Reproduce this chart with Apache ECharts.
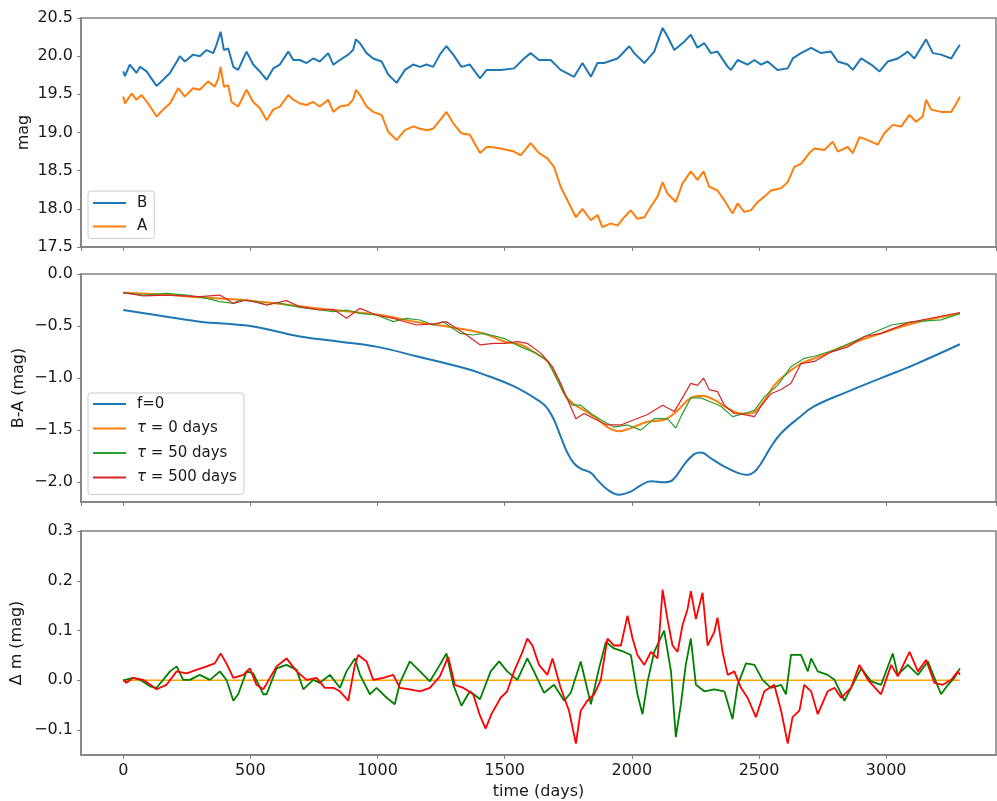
<!DOCTYPE html>
<html><head><meta charset="utf-8">
<script src="https://cdn.jsdelivr.net/npm/echarts@6/dist/echarts.min.js"></script>
<style>html,body{margin:0;padding:0;background:#fff}#c{width:997px;height:801px}</style>
</head><body><div id="c"></div>
<script>
// ---------- data (time in days, magnitudes) ----------
const B_DAYS = [0,7,26,52,66,92,131,157,184,223,242,275,301,328,354,367,383,396,413,433,452,485,511,537,564,590,616,649,669,695,721,747,773,806,826,852,885,904,915,931,957,983,1016,1042,1075,1108,1140,1167,1193,1219,1245,1271,1298,1330,1363,1403,1429,1445,1484,1537,1576,1602,1635,1681,1720,1773,1806,1839,1865,1891,1944,1990,2009,2049,2088,2121,2140,2167,2206,2232,2258,2285,2311,2337,2377,2390,2416,2455,2482,2508,2534,2573,2613,2633,2665,2705,2744,2783,2810,2849,2869,2902,2941,2974,3006,3046,3085,3111,3157,3184,3216,3256,3276,3290];
const B_MAG = [19.80,19.74,19.89,19.78,19.86,19.80,19.61,19.69,19.78,20.00,19.93,20.02,20.00,20.08,20.04,20.15,20.32,20.08,20.10,19.86,19.82,20.06,19.89,19.80,19.69,19.84,19.89,20.06,19.95,19.95,19.91,19.97,19.93,20.04,19.89,19.95,20.02,20.08,20.22,20.17,20.04,19.97,19.93,19.76,19.65,19.82,19.89,19.86,19.89,19.86,20.02,20.13,20.02,19.86,19.89,19.71,19.82,19.82,19.82,19.84,19.97,20.04,19.95,19.95,19.82,19.73,19.91,19.73,19.91,19.91,19.97,20.13,20.04,19.91,20.06,20.37,20.26,20.08,20.19,20.28,20.11,20.17,20.04,20.06,19.86,19.82,19.95,19.89,19.95,19.89,19.93,19.82,19.84,19.97,20.04,20.11,20.04,20.06,19.93,19.89,19.82,19.97,19.89,19.80,19.93,19.97,20.06,19.97,20.22,20.04,20.02,19.97,20.08,20.15];

const A_DAYS = [0,7,33,52,72,98,131,157,184,216,242,275,301,334,360,374,383,396,413,426,452,485,511,537,564,590,616,649,669,695,721,747,773,806,826,852,885,904,915,931,957,983,1016,1042,1075,1108,1140,1167,1193,1219,1245,1271,1298,1330,1363,1403,1429,1445,1484,1537,1563,1602,1635,1668,1694,1720,1747,1780,1806,1839,1865,1884,1917,1944,1970,1996,2022,2049,2075,2101,2121,2140,2173,2199,2232,2258,2282,2304,2337,2364,2396,2416,2442,2468,2495,2521,2547,2587,2613,2639,2665,2698,2718,2757,2790,2810,2849,2869,2895,2928,2967,2993,3026,3059,3092,3118,3144,3157,3177,3216,3256,3276,3290];
const A_MAG = [19.47,19.38,19.51,19.43,19.49,19.38,19.21,19.30,19.38,19.58,19.47,19.58,19.56,19.67,19.60,19.71,19.86,19.60,19.62,19.40,19.34,19.56,19.40,19.32,19.16,19.30,19.34,19.49,19.43,19.38,19.36,19.40,19.34,19.43,19.27,19.34,19.36,19.43,19.56,19.49,19.34,19.27,19.23,19.01,18.90,19.03,19.08,19.05,19.03,19.05,19.16,19.27,19.12,18.99,18.97,18.73,18.81,18.81,18.79,18.75,18.70,18.86,18.73,18.66,18.55,18.29,18.11,17.89,18.00,17.85,17.92,17.76,17.81,17.78,17.89,17.98,17.87,17.89,18.03,18.16,18.35,18.20,18.09,18.33,18.49,18.38,18.49,18.29,18.24,18.11,17.94,18.07,17.96,17.98,18.09,18.16,18.24,18.27,18.35,18.55,18.59,18.73,18.79,18.77,18.88,18.75,18.81,18.73,18.94,18.90,18.84,18.99,19.10,19.08,19.23,19.14,19.21,19.43,19.30,19.27,19.27,19.38,19.47];

const F0_DAYS = [0,170,301,500,695,852,1000,1153,1350,1406,1537,1642,1668,1694,1720,1747,1773,1799,1839,1865,1904,1950,1996,2035,2075,2127,2160,2206,2245,2272,2311,2364,2416,2455,2482,2508,2547,2587,2652,2718,2849,2980,3112,3290];
const F0_BA = [-0.346,-0.41,-0.458,-0.50,-0.60,-0.65,-0.70,-0.79,-0.91,-0.954,-1.08,-1.23,-1.29,-1.40,-1.56,-1.72,-1.82,-1.87,-1.91,-1.98,-2.07,-2.12,-2.09,-2.03,-1.99,-2.00,-1.98,-1.83,-1.73,-1.715,-1.77,-1.85,-1.91,-1.93,-1.90,-1.82,-1.66,-1.53,-1.39,-1.27,-1.13,-1.00,-0.87,-0.675];

const T0_DAYS = [0,170,301,500,695,826,1000,1153,1285,1416,1500,1563,1615,1668,1707,1734,1766,1799,1852,1904,1950,1996,2062,2127,2180,2232,2278,2324,2377,2429,2468,2508,2560,2613,2665,2718,2849,2980,3112,3290];
const T0_BA = [-0.18,-0.20,-0.224,-0.256,-0.31,-0.346,-0.39,-0.46,-0.51,-0.57,-0.65,-0.68,-0.75,-0.84,-1.00,-1.15,-1.24,-1.29,-1.37,-1.47,-1.51,-1.48,-1.42,-1.40,-1.31,-1.19,-1.17,-1.21,-1.29,-1.34,-1.34,-1.26,-1.07,-0.95,-0.86,-0.81,-0.68,-0.57,-0.47,-0.38];

const T50_DAYS = [0,79,170,249,328,380,433,459,524,564,603,695,773,826,878,931,996,1062,1114,1167,1219,1258,1324,1376,1416,1458,1500,1563,1615,1668,1707,1740,1766,1799,1839,1878,1930,1983,2035,2088,2140,2173,2193,2232,2272,2311,2350,2396,2442,2482,2521,2573,2626,2678,2718,2797,2915,3020,3099,3216,3290];
const T50_BA = [-0.179,-0.202,-0.186,-0.202,-0.234,-0.266,-0.282,-0.25,-0.266,-0.298,-0.275,-0.32,-0.346,-0.362,-0.346,-0.378,-0.394,-0.458,-0.426,-0.442,-0.49,-0.458,-0.57,-0.586,-0.57,-0.595,-0.62,-0.70,-0.75,-0.83,-1.02,-1.18,-1.26,-1.26,-1.34,-1.40,-1.47,-1.45,-1.50,-1.39,-1.39,-1.48,-1.37,-1.19,-1.19,-1.23,-1.27,-1.37,-1.34,-1.31,-1.18,-1.07,-0.89,-0.81,-0.79,-0.73,-0.60,-0.49,-0.46,-0.44,-0.38];

const T500_DAYS = [0,79,170,301,380,433,485,564,642,695,773,826,878,931,996,1062,1154,1219,1271,1350,1403,1458,1500,1550,1589,1642,1688,1720,1753,1780,1812,1852,1904,1957,2009,2062,2121,2167,2199,2232,2258,2282,2304,2337,2364,2403,2442,2482,2508,2547,2587,2626,2665,2718,2783,2849,2915,2980,3085,3164,3290];
const T500_BA = [-0.179,-0.211,-0.202,-0.218,-0.202,-0.282,-0.25,-0.298,-0.256,-0.314,-0.346,-0.339,-0.426,-0.33,-0.394,-0.426,-0.49,-0.48,-0.458,-0.586,-0.68,-0.666,-0.666,-0.65,-0.666,-0.76,-0.89,-1.05,-1.24,-1.39,-1.34,-1.39,-1.45,-1.45,-1.40,-1.35,-1.26,-1.32,-1.19,-1.05,-1.07,-1.00,-1.11,-1.13,-1.26,-1.34,-1.35,-1.37,-1.27,-1.15,-1.11,-1.05,-0.86,-0.84,-0.75,-0.70,-0.60,-0.57,-0.47,-0.43,-0.37];

const D0_DAYS = [0,3290];
const D0_DM = [0,0];

const D50_DAYS = [0,39,66,105,131,157,184,210,236,262,301,341,380,406,433,452,485,511,551,564,603,642,682,708,747,773,813,852,878,911,931,970,996,1036,1068,1088,1127,1167,1206,1245,1271,1298,1330,1363,1403,1445,1478,1510,1550,1589,1615,1655,1694,1734,1760,1799,1839,1871,1898,1930,1970,1996,2022,2042,2062,2088,2127,2154,2173,2193,2212,2232,2252,2285,2324,2364,2396,2416,2449,2482,2514,2547,2587,2606,2626,2665,2692,2705,2731,2770,2797,2836,2862,2902,2941,2980,3026,3046,3085,3125,3164,3190,3216,3243,3269,3290];
const D50_DM = [0,0.005,0.001,-0.012,-0.015,0.001,0.018,0.028,0.001,0.001,0.011,0.001,0.018,0.001,-0.041,-0.028,0.018,0.014,-0.028,-0.028,0.024,0.031,0.021,-0.018,0.001,-0.005,0.011,-0.015,0.018,0.044,0.011,-0.028,-0.015,-0.035,-0.048,-0.005,0.038,0.018,-0.002,0.031,0.054,-0.009,-0.051,-0.022,-0.038,0.018,0.038,0.018,0.001,0.044,0.018,-0.025,-0.009,-0.041,-0.025,0.038,-0.048,0.024,0.077,0.064,0.057,0.051,-0.028,-0.068,-0.002,0.057,0.10,0.018,-0.114,-0.048,0.031,0.084,-0.009,-0.022,-0.018,-0.022,-0.078,-0.009,0.034,0.031,0.001,-0.015,-0.009,-0.028,0.051,0.051,0.018,0.044,0.018,0.011,0.001,-0.041,-0.015,0.024,-0.002,-0.009,0.054,0.011,0.031,0.011,0.038,0.005,-0.028,-0.009,0.005,0.024];

const D500_DAYS = [0,13,39,79,131,170,210,249,288,328,360,383,406,433,472,498,524,551,577,603,642,682,721,760,793,826,852,885,911,924,957,983,1022,1062,1088,1127,1167,1206,1245,1278,1304,1337,1376,1403,1425,1448,1484,1510,1537,1570,1589,1609,1635,1668,1688,1720,1753,1780,1799,1825,1852,1878,1904,1930,1957,1983,2003,2022,2049,2075,2101,2121,2140,2160,2180,2199,2219,2232,2252,2278,2298,2324,2337,2357,2377,2403,2429,2455,2488,2521,2560,2587,2613,2632,2659,2678,2705,2731,2770,2797,2823,2862,2895,2928,2980,3020,3046,3092,3125,3157,3190,3223,3256,3282,3290];
const D500_DM = [0,-0.005,0.005,0.001,-0.018,-0.009,0.018,0.014,0.021,0.028,0.034,0.054,0.034,0.005,0.011,0.024,-0.009,-0.018,0.005,0.028,0.044,0.018,0.001,0.005,-0.015,-0.015,-0.022,-0.041,0.031,0.051,0.038,0.001,0.005,0.011,-0.015,-0.018,-0.022,-0.015,0.008,0.047,-0.009,-0.015,-0.028,-0.071,-0.097,-0.068,-0.035,-0.022,0.018,0.057,0.084,0.070,0.031,0.011,0.044,-0.015,-0.061,-0.127,-0.061,-0.041,-0.028,0.001,0.084,0.070,0.070,0.13,0.084,0.051,0.031,0.057,0.044,0.182,0.123,0.070,0.057,0.110,0.143,0.179,0.123,0.176,0.070,0.097,0.126,0.057,0.011,0.018,-0.015,-0.035,-0.074,-0.022,-0.009,-0.061,-0.127,-0.074,-0.061,-0.009,-0.022,-0.068,-0.022,-0.015,-0.035,-0.015,0.031,0.001,-0.028,0.031,0.008,0.057,0.018,0.041,-0.005,-0.009,0.001,0.018,0.011];

const TOP_NAMES = ['B','A'];
const MID_NAMES = ['f=0','τ = 0 days','τ = 50 days','τ = 500 days'];
const X_LABEL = 'time (days)';
const Y_LABELS = ['mag','B-A (mag)','Δ m (mag)'];

// ---------- chart ----------
const FONT = 'DejaVu Sans';
const TXT = '#1a1a1a';
const FRAME = '#808080';
const pairs = (xs, ys) => xs.map((x, i) => [x, ys[i]]);
const fmtNum = d => v => (v < 0 ? '\u2212' : '') + Math.abs(v).toFixed(d);

const grids = [
  {left: 81, top: 18, width: 915, height: 229},
  {left: 81, top: 274, width: 915, height: 228},
  {left: 81, top: 531, width: 915, height: 227}
].map(g => Object.assign(g, {show: true, borderColor: FRAME, borderWidth: 1.5, backgroundColor: 'transparent'}));

function xAxis(i) {
  return {
    type: 'value', gridIndex: i, min: -166, max: 3432, splitNumber: 7,
    splitLine: {show: false},
    axisLine: {show: true, onZero: false, lineStyle: {color: FRAME, width: 1.5}},
    axisTick: {show: true, length: 4, lineStyle: {color: FRAME, width: 1}},
    axisLabel: {show: i === 2, showMinLabel: false, showMaxLabel: false, margin: 8,
      color: TXT, fontFamily: FONT, fontSize: 16, formatter: v => String(v)},
    name: i === 2 ? X_LABEL : '', nameLocation: 'middle', nameGap: 29, nameMoveOverlap: false,
    nameTextStyle: {color: TXT, fontFamily: FONT, fontSize: 16}
  };
}
function yAxis(i, min, max, gap, extra) {
  return Object.assign({
    type: 'value', gridIndex: i, min: min, max: max,
    splitLine: {show: false},
    axisLine: {show: true, onZero: false, lineStyle: {color: FRAME, width: 1.5}},
    axisTick: {show: true, length: 4, lineStyle: {color: FRAME, width: 1}},
    axisLabel: {showMinLabel: i === 0, margin: 8, color: TXT, fontFamily: FONT, fontSize: 16, formatter: fmtNum(1)},
    name: Y_LABELS[i], nameLocation: 'middle', nameGap: gap, nameRotate: 90, nameMoveOverlap: false,
    nameTextStyle: {color: TXT, fontFamily: FONT, fontSize: 16}
  }, extra || {});
}

function line(name, xi, xs, ys, color, width, extra) {
  return Object.assign({
    name: name, type: 'line', xAxisIndex: xi, yAxisIndex: xi,
    data: pairs(xs, ys), symbol: 'none', showSymbol: false,
    lineStyle: {color: color, width: width}, itemStyle: {color: color},
    emphasis: {disabled: true}, animation: false
  }, extra || {});
}

const legendBase = {
  orient: 'vertical', left: 88, icon: 'rect', itemWidth: 33, itemHeight: 2,
  backgroundColor: 'rgba(255,255,255,0.8)', borderColor: '#cccccc', borderWidth: 1, borderRadius: 3,
  textStyle: {color: TXT, fontFamily: FONT, fontSize: 15, lineHeight: 18, padding: [0, 0, 0, 6],
    rich: {i: {fontStyle: 'italic', fontFamily: FONT, fontSize: 15, color: TXT}}},
  formatter: n => n.charAt(0) === 'τ' ? '{i|τ}' + n.slice(1) : n
};

const option = {
  animation: false,
  backgroundColor: '#ffffff',
  grid: grids,
  xAxis: [xAxis(0), xAxis(1), xAxis(2)],
  yAxis: [
    yAxis(0, 17.5, 20.5, 49, {interval: 0.5}),
    yAxis(1, -2.19, 0, 54, {splitNumber: 5}),
    yAxis(2, -0.15, 0.3, 56, {splitNumber: 5})
  ],
  legend: [
    Object.assign({}, legendBase, {top: 191, data: TOP_NAMES, itemGap: 5.5, padding: [3, 7, 3, 5]}),
    Object.assign({}, legendBase, {top: 393, data: MID_NAMES, itemGap: 6.5, padding: [2, 7, 8, 5]})
  ],
  series: [
    line('B', 0, B_DAYS, B_MAG, '#1f77b4', 2),
    line('A', 0, A_DAYS, A_MAG, '#ff7f0e', 2),
    line('f=0', 1, F0_DAYS, F0_BA, '#1f77b4', 2, {smooth: 0.4}),
    line('τ = 0 days', 1, T0_DAYS, T0_BA, '#ff7f0e', 2, {smooth: 0.4}),
    line('τ = 50 days', 1, T50_DAYS, T50_BA, '#2ca02c', 1.2),
    line('τ = 500 days', 1, T500_DAYS, T500_BA, '#d62728', 1.2),
    line('Δm τ=0', 2, D0_DAYS, D0_DM, '#ffa500', 1.5),
    line('Δm τ=50', 2, D50_DAYS, D50_DM, '#008000', 1.8),
    line('Δm τ=500', 2, D500_DAYS, D500_DM, '#ff0000', 1.8)
  ]
};

const chart = echarts.init(document.getElementById('c'), null, {renderer: 'canvas'});
chart.setOption(option);
</script>
</body></html>
